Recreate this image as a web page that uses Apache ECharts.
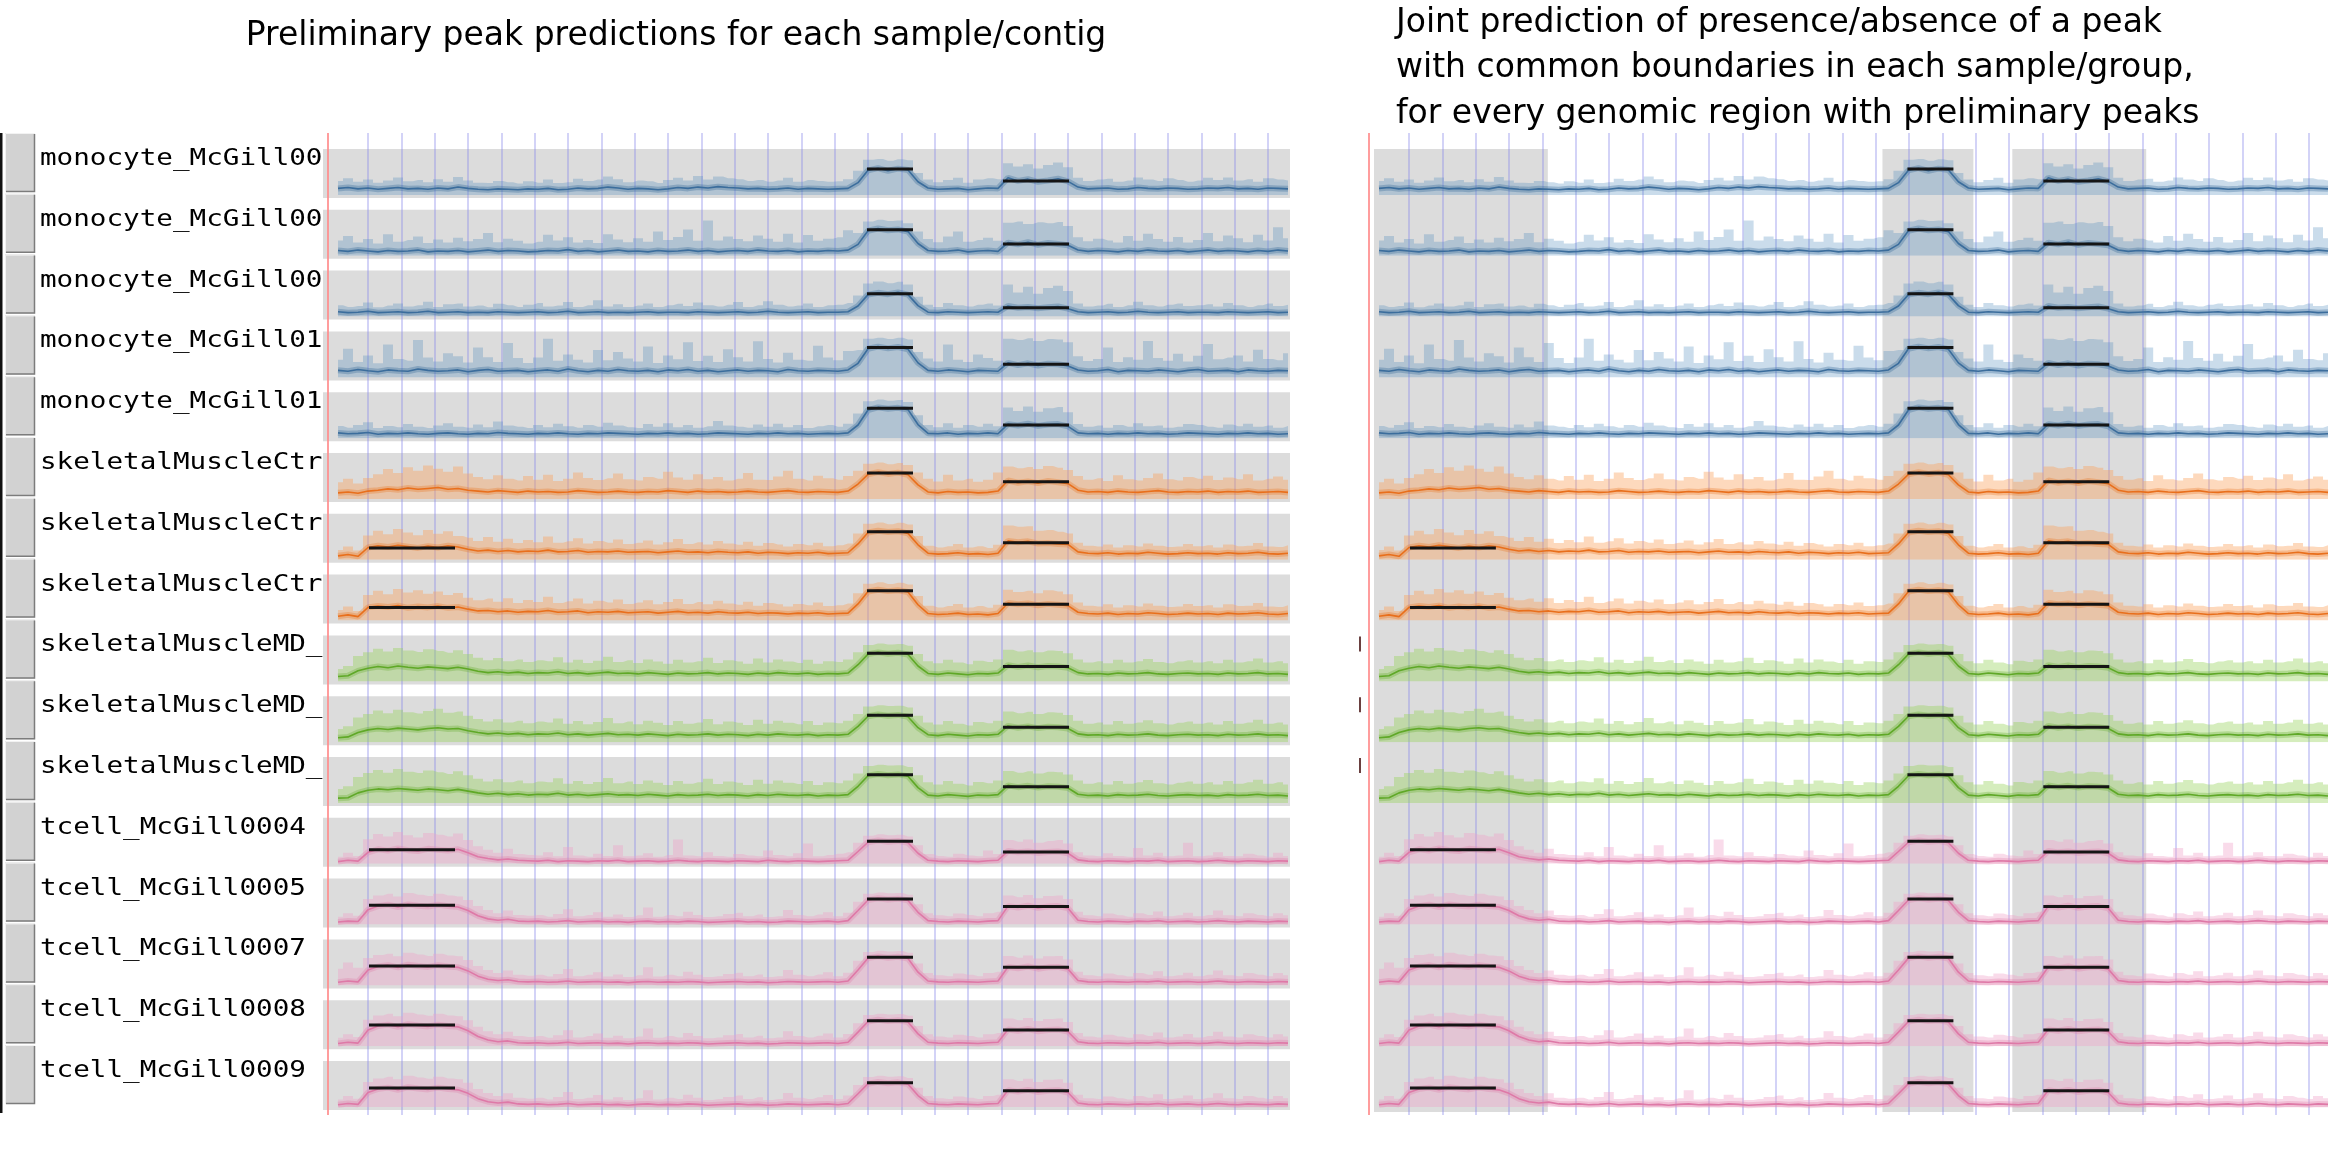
<!DOCTYPE html>
<html>
<head>
<meta charset="utf-8">
<title>peak predictions</title>
<script src="https://cdn.jsdelivr.net/npm/echarts@6.0.0/dist/echarts.min.js"></script>
<style>
html,body{margin:0;padding:0;background:#fff;}
#main{width:2333px;height:1151px;}
</style>
</head>
<body>
<div id="main"></div>
<script>
// samples, top to bottom
var trackNames = ['monocyte_McGill0001','monocyte_McGill0004','monocyte_McGill0007','monocyte_McGill0104','monocyte_McGill0106',
  'skeletalMuscleCtrl_McGill0051','skeletalMuscleCtrl_McGill0052','skeletalMuscleCtrl_McGill0053',
  'skeletalMuscleMD_McGill0061','skeletalMuscleMD_McGill0062','skeletalMuscleMD_McGill0063',
  'tcell_McGill0004','tcell_McGill0005','tcell_McGill0007','tcell_McGill0008','tcell_McGill0009'];
var trackGroup = ['blue','blue','blue','blue','blue','orange','orange','orange','green','green','green','pink','pink','pink','pink','pink'];

// coverage per bin (96 bins across the window): mean line and upper envelope
var mean01 = [1.5,1.7,1.4,1.6,1.3,1.5,1.7,1.4,1.5,1.3, 1.6,1.4,1.8,1.5,1.3,1.2,1.4,1.3,1.2,1.4, 1.3,1.5,1.2,1.3,1.6,1.4,1.5,1.8,1.6,1.3, 1.5,1.4,1.2,1.4,1.7,1.5,1.8,1.6,1.9,1.7, 1.6,1.4,1.5,1.3,1.4,1.6,1.3,1.5,1.4,1.3, 1.4,1.5, 2.8, 5.6,6.1,5.5,6.0,5.7, 3.0, 1.6,1.3,1.4,1.5,1.2,1.4,1.6,1.5, 3.9,3.2,3.6,3.0,3.3,3.7,3.1, 1.8,1.4,1.5,1.6,1.3,1.4,1.7,1.5,1.4,1.6,1.5,1.3,1.4,1.6,1.5,1.7,1.4,1.5,1.3,1.6,1.5,1.4];
var upper01 = [3.2,3.8,3.0,3.5,2.8,3.3,4.0,3.1,3.4,2.9, 3.6,3.0,4.1,3.3,2.8,2.7,3.2,2.9,2.6,3.1, 2.8,3.5,2.7,2.9,3.7,3.2,3.5,4.2,3.6,2.9, 3.3,3.1,2.7,3.4,3.9,3.3,4.3,3.5,4.2,3.8, 3.6,3.2,3.4,3.0,3.3,3.9,3.0,3.4,3.2,3.0, 3.1,3.6, 5.5, 8.0,8.2,7.8,8.1,7.9, 5.0, 3.5,2.9,3.4,3.9,2.8,3.5,3.8,3.6, 7.2,6.5,7.0,6.0,6.8,7.4,6.3, 3.9,3.2,3.5,3.7,3.0,3.3,4.0,3.5,3.2,3.8,3.4,3.0,3.3,3.9,3.4,4.0,3.3,3.6,3.0,3.8,3.5,3.3];
var mean02 = [1.2,1.0,1.3,1.1,0.9,1.2,1.0,1.1,1.3,0.9, 1.1,1.0,1.2,0.9,1.1,1.3,1.0,1.2,1.1,0.9, 1.0,1.2,1.1,1.4,1.0,1.2,0.9,1.1,1.3,1.0, 1.1,0.9,1.2,1.0,1.1,1.3,1.0,1.2,0.9,1.1, 1.2,1.0,1.3,1.1,1.0,1.2,0.9,1.1,1.0,1.2, 1.1,1.3, 2.6, 5.7,6.2,5.8,6.0,5.5, 2.8, 1.2,1.0,1.1,1.3,0.9,1.1,1.2,1.0, 3.0,2.6,3.1,2.5,2.9,2.7,2.4, 1.3,1.0,1.2,1.1,0.9,1.2,1.0,1.3,1.1,1.0,1.2,0.9,1.1,1.3,1.0,1.2,1.1,0.9,1.2,1.0,1.3,1.1];
var upper02 = [3.5,4.5,3.0,3.8,2.8,4.9,3.2,3.6,4.4,2.9, 3.7,3.0,4.1,3.3,3.8,5.2,3.1,3.9,3.4,2.8, 3.2,4.8,3.5,4.2,3.0,3.6,2.9,4.9,3.7,3.1, 4.0,3.2,5.5,3.6,4.3,6.0,3.4,8.0,3.5,4.4, 3.8,3.3,4.6,3.9,3.2,5.0,3.0,4.7,3.4,3.9, 4.2,5.8, 5.2, 7.8,8.2,7.9,8.0,7.4, 5.5, 3.8,3.1,4.4,5.5,3.2,3.6,4.1,3.4, 7.5,7.8,7.2,7.6,7.4,7.7,6.8, 4.2,3.3,3.9,3.5,3.0,4.5,3.4,5.0,3.8,3.2,4.3,3.0,3.6,5.2,3.3,4.6,4.0,3.1,4.8,3.5,6.5,4.0];
var mean03 = [1.1,0.9,1.0,1.2,0.9,1.0,1.1,0.9,1.0,1.2, 0.9,1.0,1.1,0.9,1.0,0.9,1.1,1.0,0.9,1.0, 1.1,0.9,1.0,1.2,0.9,1.0,1.1,0.9,1.0,0.9, 1.0,1.1,0.9,1.0,1.0,0.9,1.1,1.0,0.9,1.0, 1.1,0.9,1.0,1.2,1.0,0.9,1.0,1.1,0.9,1.0, 1.0,1.1, 2.4, 5.0,5.4,5.1,5.5,5.0, 2.5, 1.0,0.9,1.1,1.0,0.9,1.0,1.1,1.0, 2.4,2.0,2.2,1.9,2.1,2.3,1.8, 1.1,0.9,1.0,1.1,0.9,1.0,1.2,1.0,0.9,1.0,1.1,0.9,1.0,1.0,0.9,1.1,1.0,0.9,1.0,1.1,0.9,1.0];
var upper03 = [2.6,2.2,2.4,3.2,2.1,2.5,3.0,2.3,2.6,3.4, 2.2,2.8,3.0,2.3,2.5,2.1,2.9,2.6,2.2,2.7, 3.1,2.3,2.5,3.3,2.2,2.6,3.7,2.3,2.8,2.2, 2.5,3.0,2.2,2.6,2.9,2.4,3.2,2.6,2.3,2.7, 3.3,2.2,2.6,3.5,2.7,2.3,2.5,3.0,2.2,2.6, 2.7,3.1, 4.8, 7.5,8.0,7.6,7.9,7.3, 4.5, 2.7,2.2,3.1,2.6,2.3,2.7,3.0,2.5, 7.3,5.5,6.8,5.2,6.5,7.0,5.8, 3.0,2.3,2.5,2.9,2.2,2.6,3.4,2.6,2.3,2.7,3.0,2.4,2.6,2.8,2.3,3.1,2.6,2.2,2.6,3.0,2.4,2.7];
var mean04 = [1.6,1.4,1.8,1.5,1.3,1.7,1.5,1.4,1.9,1.6, 1.4,1.5,1.7,1.3,1.6,1.8,1.4,1.5,1.6,1.3, 1.5,1.7,1.4,1.9,1.5,1.3,1.6,1.4,1.8,1.5, 1.4,1.6,1.3,1.7,1.5,1.8,1.4,1.6,1.3,1.5, 1.7,1.4,1.6,1.5,1.3,1.8,1.5,1.4,1.6,1.5, 1.4,1.7, 3.2, 6.5,7.0,6.6,6.9,6.4, 3.3, 1.6,1.4,1.7,1.5,1.3,1.6,1.5,1.4, 3.3,2.8,3.2,2.7,3.1,3.0,2.6, 1.7,1.4,1.5,1.8,1.3,1.6,1.5,1.4,1.7,1.5,1.3,1.6,1.8,1.4,1.5,1.6,1.3,1.7,1.5,1.4,1.6,1.5];
var upper04 = [4.0,6.5,3.5,5.0,3.2,7.5,4.2,3.8,8.5,4.5, 3.6,5.5,4.8,3.4,6.8,4.6,3.5,7.8,4.4,3.3, 4.5,8.8,3.8,5.2,4.0,3.4,6.2,3.9,5.8,4.3, 3.6,7.0,3.3,5.0,4.1,8.0,3.7,4.9,3.5,6.4, 4.6,3.6,8.2,4.2,3.4,5.6,4.0,3.8,7.2,4.5, 3.9,6.0, 6.2, 8.8,9.0,8.7,9.0,8.6, 5.8, 4.3,3.6,7.5,4.0,3.5,5.2,4.4,3.8, 8.8,8.5,8.9,8.3,8.7,8.6,8.0, 4.8,3.7,4.2,6.8,3.5,4.6,4.0,8.3,4.4,3.8,5.4,3.6,4.9,7.6,4.1,4.5,5.0,3.6,6.3,4.2,3.9,5.5];
var mean05 = [1.2,1.0,1.1,1.3,0.9,1.1,1.0,1.2,1.0,0.9, 1.1,1.2,1.0,0.9,1.1,1.0,1.3,1.1,1.0,0.9, 1.1,1.0,1.2,1.0,0.9,1.1,1.0,1.2,1.1,1.0, 0.9,1.1,1.0,1.2,1.0,1.1,0.9,1.0,1.2,1.1, 1.0,0.9,1.1,1.0,1.2,1.0,1.1,0.9,1.0,1.1, 1.0,1.2, 3.0, 6.4,7.0,6.7,6.9,6.5, 3.1, 1.1,1.0,1.2,0.9,1.1,1.0,1.2,1.0, 3.2,2.9,3.3,2.8,3.1,3.2,2.7, 1.2,1.0,1.1,0.9,1.1,1.0,1.2,1.0,1.1,0.9,1.0,1.2,1.1,1.0,0.9,1.1,1.0,1.2,1.0,1.1,0.9,1.0];
var upper05 = [2.8,2.4,3.0,3.6,2.3,2.8,2.5,3.2,2.6,2.3, 2.9,3.4,2.6,2.4,3.1,2.5,3.8,2.9,2.6,2.3, 3.0,2.5,3.3,2.7,2.4,3.0,2.6,3.5,2.9,2.5, 2.3,3.2,2.6,3.4,2.5,3.0,2.4,2.7,3.9,2.9, 2.6,2.4,3.1,2.6,3.3,2.5,3.0,2.3,2.7,3.0, 2.6,3.3, 5.6, 8.4,8.8,8.5,8.7,8.2, 5.2, 3.0,2.5,3.4,2.4,3.0,2.6,3.3,2.7, 7.0,6.2,7.2,6.0,6.8,7.1,5.9, 3.2,2.6,2.9,2.4,3.0,2.6,3.4,2.7,2.9,2.4,2.6,3.2,3.0,2.6,2.4,3.1,2.7,3.3,2.6,2.9,2.4,2.8];
var mean06 = [1.4,1.6,1.3,1.8,2.0,2.3,2.1,2.5,2.2,2.4, 2.6,2.2,2.4,2.0,1.8,1.6,1.9,1.7,1.5,1.8, 1.6,1.7,1.5,1.6,1.9,1.7,1.5,1.6,1.8,1.6, 1.5,1.7,1.6,1.9,1.7,1.5,1.8,1.6,1.7,1.5, 1.6,1.8,1.6,1.5,1.7,1.9,1.6,1.5,1.7,1.6, 1.5,1.8, 3.4, 5.6,6.1,5.7,6.0,5.5, 3.2, 1.6,1.4,1.7,1.5,1.6,1.4,1.5,1.8, 4.2,3.7,4.0,3.6,4.1,3.8,3.5, 2.0,1.6,1.7,1.5,1.8,1.6,1.5,1.7,1.9,1.6,1.5,1.7,1.6,1.8,1.5,1.7,1.6,1.8,1.5,1.6,1.7,1.5];
var upper06 = [3.8,4.6,3.5,4.8,5.6,6.8,5.9,7.2,6.4,7.6, 6.9,6.2,7.4,5.8,5.0,4.5,5.4,4.6,4.2,5.2, 4.4,5.5,4.1,4.6,6.0,4.8,4.3,4.7,5.8,4.5, 4.2,5.0,4.6,6.2,4.9,4.4,5.6,4.5,5.0,4.2, 4.6,5.9,4.4,4.3,5.1,6.4,4.6,4.2,5.3,4.7, 4.4,5.2, 6.4, 8.0,8.3,7.9,8.2,7.7, 6.0, 4.6,4.0,5.5,4.2,4.6,3.9,4.4,6.0, 7.4,7.0,7.3,6.8,7.5,7.1,6.6, 5.2,4.4,4.7,4.1,5.4,4.5,4.2,4.8,5.8,4.5,4.2,5.0,4.6,5.3,4.3,4.9,4.5,5.6,4.2,4.6,5.1,4.4];
var mean07 = [0.9,1.2,0.8,2.8,3.2,2.9,3.3,3.0,2.7,3.1, 2.8,3.2,2.9,2.4,2.0,2.2,1.9,2.1,1.8,2.0, 1.9,2.2,1.8,1.9,2.1,1.7,1.9,1.8,2.0,1.7, 1.8,1.9,1.6,1.8,2.0,1.7,1.8,1.6,1.9,1.7, 1.6,1.8,1.5,1.7,1.6,1.4,1.6,1.5,1.7,1.4, 1.5,1.6, 3.6, 6.2,6.6,6.3,6.5,6.0, 3.4, 1.5,1.3,1.4,1.6,1.3,1.4,1.2,1.5, 4.3,4.0,4.2,3.7,3.8,3.6,3.5, 1.8,1.5,1.4,1.6,1.3,1.5,1.4,1.7,1.5,1.3,1.4,1.6,1.4,1.5,1.3,1.6,1.4,1.5,1.7,1.4,1.3,1.5];
var upper07 = [2.2,3.0,2.1,5.5,6.6,5.8,7.0,6.2,5.6,6.8, 5.9,6.5,5.4,5.0,4.3,5.2,4.1,4.8,3.8,4.5, 4.0,5.3,3.9,4.2,4.9,3.7,4.3,3.9,4.6,3.6, 3.9,4.4,3.5,4.0,4.7,3.6,4.0,3.5,4.3,3.7, 3.4,4.1,3.2,3.8,3.5,3.0,3.6,3.3,3.9,3.1, 3.3,3.7, 6.0, 8.2,8.5,8.1,8.4,8.0, 5.4, 3.2,2.8,3.1,3.6,2.8,3.1,2.7,3.4, 7.8,7.5,7.6,6.6,6.8,6.4,6.0, 3.9,3.2,3.0,3.5,2.8,3.3,3.0,3.7,3.2,2.9,3.0,3.6,3.1,3.3,2.8,3.5,3.1,3.2,3.8,3.0,2.9,3.3];
var mean08 = [1.0,1.3,0.9,3.0,3.3,3.1,3.4,2.9,3.2,3.0, 3.3,2.9,3.1,2.6,2.2,2.3,2.0,2.2,1.9,2.1, 2.0,2.3,1.9,2.0,2.2,1.8,2.0,1.9,2.1,1.8, 1.9,2.0,1.7,1.9,2.1,1.8,1.9,1.7,2.0,1.8, 1.7,1.9,1.6,1.8,1.7,1.5,1.7,1.6,1.8,1.5, 1.6,1.7, 3.8, 6.6,7.0,6.7,6.9,6.5, 3.6, 1.6,1.4,1.5,1.7,1.4,1.5,1.3,1.6, 4.0,3.7,3.9,3.5,3.8,3.6,3.4, 1.9,1.6,1.5,1.7,1.4,1.6,1.5,1.8,1.6,1.4,1.5,1.7,1.5,1.6,1.4,1.7,1.5,1.6,1.8,1.5,1.4,1.6];
var upper08 = [2.4,3.2,2.2,5.8,6.8,6.0,7.2,6.4,6.9,6.1, 6.6,5.8,6.3,5.2,4.6,5.0,4.3,5.1,4.0,4.7, 4.2,5.4,4.0,4.4,5.0,3.9,4.5,4.1,4.8,3.8, 4.1,4.6,3.7,4.2,4.9,3.8,4.2,3.7,4.5,3.9, 3.6,4.3,3.4,4.0,3.7,3.2,3.8,3.5,4.1,3.3, 3.5,3.9, 6.2, 8.4,8.7,8.3,8.6,8.2, 5.6, 3.4,3.0,3.3,3.8,3.0,3.3,2.9,3.6, 7.0,6.5,6.8,6.2,6.9,6.6,6.0, 4.1,3.4,3.2,3.7,3.0,3.5,3.2,3.9,3.4,3.1,3.2,3.8,3.3,3.5,3.0,3.7,3.3,3.4,4.0,3.2,3.1,3.5];
var mean09 = [1.1,1.3,2.4,3.0,3.4,3.1,3.5,3.2,3.0,3.3, 3.1,2.9,3.2,2.8,2.3,2.0,2.2,1.9,2.1,1.8, 2.0,1.9,2.2,1.8,2.0,1.7,1.9,2.1,1.8,1.9, 1.7,2.0,1.8,1.6,1.9,1.7,1.8,2.0,1.7,1.9, 1.8,1.6,1.9,1.7,2.0,1.8,1.7,1.9,1.6,1.8, 1.7,1.9, 3.8, 6.2,6.6,6.3,6.5,6.1, 3.5, 1.8,1.6,1.9,1.7,1.5,1.8,1.7,1.9, 3.7,3.3,3.6,3.2,3.5,3.4,3.1, 2.0,1.7,1.8,1.6,1.9,1.7,1.8,2.0,1.7,1.6,1.8,1.9,1.7,1.8,1.6,1.9,1.7,1.8,2.0,1.7,1.8,1.6];
var upper09 = [2.8,3.5,5.8,6.6,7.4,6.8,7.6,7.0,6.7,7.3, 6.9,6.5,7.1,6.2,5.4,4.8,5.3,4.6,5.0,4.4, 4.8,4.6,5.5,4.3,4.9,4.2,4.7,5.6,4.4,4.8, 4.2,5.0,4.5,4.0,4.9,4.3,4.6,5.4,4.2,4.8, 4.5,4.0,5.2,4.3,5.0,4.5,4.2,4.9,4.0,4.6, 4.4,5.0, 6.6, 8.3,8.6,8.4,8.5,8.1, 6.2, 4.6,4.1,4.9,4.3,3.9,4.7,4.4,5.0, 7.2,6.8,7.1,6.6,7.0,6.9,6.4, 5.0,4.3,4.6,4.1,4.9,4.3,4.6,5.1,4.4,4.1,4.5,4.8,4.3,4.6,4.1,4.9,4.3,4.6,5.2,4.3,4.6,4.1];
var mean10 = [1.0,1.2,2.2,2.8,3.1,2.9,3.2,3.0,2.8,3.1, 3.3,3.0,3.1,2.6,2.2,1.9,2.1,1.8,2.0,1.7, 1.9,1.8,2.1,1.7,1.9,1.6,1.8,2.0,1.7,1.8, 1.6,1.9,1.7,1.5,1.8,1.6,1.7,1.9,1.6,1.8, 1.7,1.5,1.8,1.6,1.9,1.7,1.6,1.8,1.5,1.7, 1.6,1.8, 3.6, 5.9,6.3,6.0,6.2,5.8, 3.3, 1.7,1.5,1.8,1.6,1.4,1.7,1.6,1.8, 3.7,3.3,3.6,3.2,3.5,3.4,3.1, 1.9,1.6,1.7,1.5,1.8,1.6,1.7,1.9,1.6,1.5,1.7,1.8,1.6,1.7,1.5,1.8,1.6,1.7,1.9,1.6,1.7,1.5];
var upper10 = [3.0,3.6,5.6,6.4,7.2,6.6,7.4,6.8,6.5,7.1, 7.6,6.7,7.0,6.0,5.3,4.7,5.2,4.5,4.9,4.3, 4.7,4.5,5.4,4.2,4.8,4.1,4.6,5.5,4.3,4.7, 4.1,4.9,4.4,3.9,4.8,4.2,4.5,5.3,4.1,4.7, 4.4,3.9,5.1,4.2,4.9,4.4,4.1,4.8,3.9,4.5, 4.3,4.9, 6.4, 8.1,8.4,8.2,8.3,7.9, 6.0, 4.5,4.0,4.8,4.2,3.8,4.6,4.3,4.9, 7.0,6.6,6.9,6.4,6.8,6.7,6.2, 4.9,4.2,4.5,4.0,4.8,4.2,4.5,5.0,4.3,4.0,4.4,4.7,4.2,4.5,4.0,4.8,4.2,4.5,5.1,4.2,4.5,4.0];
var mean11 = [1.1,1.2,2.3,2.9,3.2,3.0,3.3,3.1,2.9,3.2, 3.0,2.8,3.1,2.7,2.3,2.0,2.2,1.9,2.1,1.8, 2.0,1.9,2.2,1.8,2.0,1.7,1.9,2.1,1.8,1.9, 1.7,2.0,1.8,1.6,1.9,1.7,1.8,2.0,1.7,1.9, 1.8,1.6,1.9,1.7,2.0,1.8,1.7,1.9,1.6,1.8, 1.7,1.9, 3.8, 6.2,6.6,6.3,6.5,6.1, 3.5, 1.8,1.6,1.9,1.7,1.5,1.8,1.7,1.9, 4.0,3.6,3.9,3.5,3.8,3.7,3.4, 2.0,1.7,1.8,1.6,1.9,1.7,1.8,2.0,1.7,1.6,1.8,1.9,1.7,1.8,1.6,1.9,1.7,1.8,2.0,1.7,1.8,1.6];
var upper11 = [3.2,3.8,5.9,6.8,7.5,6.9,7.7,7.1,6.8,7.4, 7.0,6.6,7.2,6.3,5.5,4.9,5.4,4.7,5.1,4.5, 4.9,4.7,5.6,4.4,5.0,4.3,4.8,5.7,4.5,4.9, 4.3,5.1,4.6,4.1,5.0,4.4,4.7,5.5,4.3,4.9, 4.6,4.1,5.3,4.4,5.1,4.6,4.3,5.0,4.1,4.7, 4.5,5.1, 6.7, 8.4,8.7,8.5,8.6,8.2, 6.3, 4.7,4.2,5.0,4.4,4.0,4.8,4.5,5.1, 7.3,6.9,7.2,6.7,7.1,7.0,6.5, 5.1,4.4,4.7,4.2,5.0,4.4,4.7,5.2,4.5,4.2,4.6,4.9,4.4,4.7,4.2,5.0,4.4,4.7,5.3,4.4,4.7,4.2];
var mean12 = [0.5,0.8,0.6,2.6,3.3,3.0,3.5,3.1,2.9,3.4, 3.2,3.0,3.3,2.5,1.6,1.2,0.9,1.1,0.8,0.7, 0.6,0.8,0.5,0.7,0.6,0.5,0.7,0.6,0.8,0.5, 0.6,0.7,0.5,0.6,0.8,0.6,0.5,0.7,0.6,0.5, 0.7,0.6,0.5,0.8,0.6,0.5,0.7,0.6,0.5,0.6, 0.7,0.8, 2.8, 4.9,5.3,5.0,5.2,4.8, 2.4, 0.8,0.6,0.5,0.7,0.6,0.5,0.7,0.8, 2.9,2.6,2.8,2.5,2.7,2.8,2.4, 0.9,0.6,0.5,0.7,0.6,0.5,0.7,0.6,0.8,0.5,0.6,0.7,0.5,0.6,0.8,0.6,0.5,0.7,0.6,0.5,0.7,0.6];
var upper12 = [1.6,2.5,1.8,5.6,6.8,6.2,7.2,6.5,6.0,7.0, 6.6,6.2,6.9,5.4,4.0,3.2,2.5,3.4,2.2,2.0, 1.9,2.6,1.7,3.8,1.9,1.6,2.3,1.8,4.2,1.7, 1.9,2.4,1.6,2.0,5.5,1.9,1.7,2.6,1.8,1.6, 2.2,1.9,1.7,3.0,2.0,1.7,2.4,4.6,1.7,2.0, 2.3,2.6, 4.8, 6.4,6.7,6.5,6.6,6.2, 4.2, 2.2,1.8,1.6,2.3,1.9,1.7,3.0,2.2, 5.4,5.0,5.5,4.8,5.2,5.4,4.6, 2.6,1.9,1.7,2.4,1.8,1.6,3.6,1.9,2.5,1.7,1.9,4.8,1.7,1.9,2.6,1.8,1.7,2.3,1.9,1.6,2.5,1.8];
var mean13 = [0.6,0.8,0.7,3.4,4.2,4.5,4.0,4.6,4.3,4.1, 4.5,4.2,4.0,3.2,2.0,1.3,1.0,1.2,0.8,0.7, 0.8,0.6,0.7,0.9,0.6,0.7,0.8,0.6,0.7,0.5, 0.7,0.8,0.6,0.7,0.6,0.8,0.7,0.5,0.6,0.7, 0.8,0.6,0.7,0.5,0.6,0.8,0.7,0.6,0.7,0.8, 0.6,0.9, 3.2, 5.6,6.0,5.7,5.9,5.5, 2.8, 0.9,0.7,0.6,0.8,0.7,0.6,0.8,0.9, 4.2,3.9,4.3,3.8,4.1,4.2,3.7, 1.0,0.7,0.6,0.8,0.7,0.6,0.8,0.7,0.9,0.6,0.7,0.8,0.6,0.7,0.9,0.7,0.6,0.8,0.7,0.6,0.8,0.7];
var upper13 = [1.8,2.6,2.0,5.8,6.6,7.0,6.4,7.2,6.8,6.5, 7.0,6.6,6.4,5.6,4.2,3.3,2.6,3.2,2.2,2.0, 2.2,1.8,2.4,3.5,1.9,2.2,2.8,1.8,2.3,1.7, 2.1,3.9,1.8,2.2,1.9,2.9,2.2,1.7,1.9,2.4, 2.7,1.9,2.3,1.7,1.9,3.3,2.2,1.9,2.3,2.8, 1.9,2.7, 5.2, 7.0,7.3,7.1,7.2,6.8, 4.6, 2.6,2.1,1.9,2.5,2.2,1.9,2.6,2.9, 6.6,6.2,6.7,6.0,6.5,6.6,5.8, 2.9,2.1,1.9,2.5,2.1,1.8,2.6,2.2,3.0,1.9,2.1,2.7,1.9,2.2,3.2,2.1,1.9,2.6,2.2,1.9,2.6,2.1];
var mean14 = [0.7,1.0,0.8,3.5,4.3,4.6,4.1,4.7,4.4,4.2, 4.6,4.3,4.1,3.3,2.1,1.4,1.1,1.3,0.9,0.8, 0.9,0.7,0.8,1.0,0.7,0.8,0.9,0.7,0.8,0.6, 0.8,0.9,0.7,0.8,0.7,0.9,0.8,0.6,0.7,0.8, 0.9,0.7,0.8,0.6,0.7,0.9,0.8,0.7,0.8,0.9, 0.7,1.0, 3.5, 6.2,6.6,6.3,6.5,6.1, 3.0, 1.0,0.8,0.7,0.9,0.8,0.7,0.9,1.0, 4.2,3.9,4.3,3.8,4.1,4.2,3.7, 1.1,0.8,0.7,0.9,0.8,0.7,0.9,0.8,1.0,0.7,0.8,0.9,0.7,0.8,1.0,0.8,0.7,0.9,0.8,0.7,0.9,0.8];
var upper14 = [3.8,5.2,4.0,6.2,6.9,7.2,6.6,7.4,7.0,6.7, 7.2,6.8,6.6,5.8,4.4,3.5,2.8,3.4,2.4,2.2, 2.4,2.0,2.6,3.7,2.1,2.4,3.0,2.0,2.5,1.9, 2.3,4.1,2.0,2.4,2.1,3.1,2.4,1.9,2.1,2.6, 2.9,2.1,2.5,1.9,2.1,3.5,2.4,2.1,2.5,3.0, 2.1,2.9, 5.6, 7.6,7.9,7.7,7.8,7.4, 5.0, 2.8,2.3,2.1,2.7,2.4,2.1,2.8,3.1, 6.7,6.3,6.8,6.1,6.6,6.7,5.9, 3.1,2.3,2.1,2.7,2.3,2.0,2.8,2.4,3.2,2.1,2.3,2.9,2.1,2.4,3.4,2.3,2.1,2.8,2.4,2.1,2.8,2.3];
var mean15 = [0.6,0.9,0.7,3.7,4.6,4.9,4.4,5.0,4.7,4.5, 4.9,4.6,4.4,3.5,2.2,1.4,1.0,1.2,0.8,0.7, 0.8,0.6,0.7,0.9,0.6,0.7,0.8,0.6,0.7,0.5, 0.7,0.8,0.6,0.7,0.6,0.8,0.7,0.5,0.6,0.7, 0.8,0.6,0.7,0.5,0.6,0.8,0.7,0.6,0.7,0.8, 0.6,0.9, 3.2, 5.6,6.0,5.7,5.9,5.5, 2.8, 0.9,0.7,0.6,0.8,0.7,0.6,0.8,0.9, 3.8,3.5,3.9,3.4,3.7,3.8,3.3, 1.0,0.7,0.6,0.8,0.7,0.6,0.8,0.7,0.9,0.6,0.7,0.8,0.6,0.7,0.9,0.7,0.6,0.8,0.7,0.6,0.8,0.7];
var upper15 = [1.9,2.7,2.1,6.0,7.0,7.4,6.8,7.6,7.2,6.9, 7.4,7.0,6.8,5.9,4.4,3.4,2.7,3.3,2.3,2.1, 2.3,1.9,2.5,3.6,2.0,2.3,2.9,1.9,2.4,1.8, 2.2,4.0,1.9,2.3,2.0,3.0,2.3,1.8,2.0,2.5, 2.8,2.0,2.4,1.8,2.0,3.4,2.3,2.0,2.4,2.9, 2.0,2.8, 5.2, 7.1,7.4,7.2,7.3,6.9, 4.6, 2.7,2.2,2.0,2.6,2.3,2.0,2.7,3.0, 6.3,5.9,6.4,5.7,6.2,6.3,5.5, 3.0,2.2,2.0,2.6,2.2,1.9,2.7,2.3,3.1,2.0,2.2,2.8,2.0,2.3,3.3,2.2,2.0,2.7,2.3,2.0,2.7,2.2];
var mean16 = [0.5,0.8,0.6,3.3,4.1,4.4,3.9,4.5,4.2,4.0, 4.4,4.1,3.9,3.1,1.9,1.2,0.9,1.1,0.7,0.6, 0.7,0.5,0.6,0.8,0.5,0.6,0.7,0.5,0.6,0.4, 0.6,0.7,0.5,0.6,0.5,0.7,0.6,0.4,0.5,0.6, 0.7,0.5,0.6,0.4,0.5,0.7,0.6,0.5,0.6,0.7, 0.5,0.8, 3.0, 5.3,5.7,5.4,5.6,5.2, 2.6, 0.8,0.6,0.5,0.7,0.6,0.5,0.7,0.8, 3.8,3.5,3.9,3.4,3.7,3.8,3.3, 0.9,0.6,0.5,0.7,0.6,0.5,0.7,0.6,0.8,0.5,0.6,0.7,0.5,0.6,0.8,0.6,0.5,0.7,0.6,0.5,0.7,0.6];
var upper16 = [1.7,2.5,1.9,5.7,6.5,6.9,6.3,7.1,6.7,6.4, 6.9,6.5,6.3,5.5,4.1,3.2,2.5,3.1,2.1,1.9, 2.1,1.7,2.3,3.4,1.8,2.1,2.7,1.7,2.2,1.6, 2.0,3.8,1.7,2.1,1.8,2.8,2.1,1.6,1.8,2.3, 2.6,1.8,2.2,1.6,1.8,3.2,2.1,1.8,2.2,2.7, 1.8,2.6, 5.0, 6.8,7.1,6.9,7.0,6.6, 4.4, 2.5,2.0,1.8,2.4,2.1,1.8,2.5,2.8, 6.3,5.9,6.4,5.7,6.2,6.3,5.5, 2.8,2.0,1.8,2.4,2.0,1.7,2.5,2.1,2.9,1.8,2.0,2.6,1.8,2.1,3.1,2.0,1.8,2.5,2.1,1.8,2.5,2.0];

// peak calls (bin coordinates) and their heights per sample
var peak1Range = [53.4, 58.0];
var peak2Range = [67.0, 73.6];
var leftCallRange = [3.6, 12.2];
var peak1Height = [5.9,5.9,5.2,6.8,6.8,5.9,6.4,6.8,6.4,6.1,6.4,5.1,5.8,6.4,5.8,5.5];
var peak2Height = [3.2,2.7,2.0,3.0,3.0,3.9,3.9,3.7,3.4,3.4,3.7,2.7,4.1,4.1,3.7,3.7];
var leftCallHeight = [null,null,null,null,null,null,2.7,3.0,null,null,null,3.2,4.4,4.4,4.8,4.3];

// joint segmentation regions (right panel)
var jointRegions = [[0, 17.4], [50.9, 60.0], [63.9, 77.3]];

var meanData = [mean01,mean02,mean03,mean04,mean05,mean06,mean07,mean08,mean09,mean10,mean11,mean12,mean13,mean14,mean15,mean16];
var upperData = [upper01,upper02,upper03,upper04,upper05,upper06,upper07,upper08,upper09,upper10,upper11,upper12,upper13,upper14,upper15,upper16];

var groupColors = {
  blue:   {line:'#3b6d9c', mid:'rgba(59,109,156,0.35)', band:'rgba(80,140,190,0.30)'},
  orange: {line:'#e86f1c', mid:'rgba(232,111,28,0.30)', band:'rgba(250,160,90,0.40)'},
  green:  {line:'#5fa827', mid:'rgba(95,168,39,0.30)',  band:'rgba(150,210,90,0.40)'},
  pink:   {line:'#de79a7', mid:'rgba(222,121,167,0.30)', band:'rgba(240,160,200,0.38)'}
};

var TOP0 = 149, PITCH = 60.8, TRACK_H = 49, NBINS = 96;
var panels = [
  {sigLeft:333, lineLeft:368, lineRight:1290, redX:328, shaded:true},
  {sigLeft:1374, lineLeft:1409, lineRight:2333, redX:1369, shaded:false}
];

var chart = echarts.init(document.getElementById('main'));
var grids = [], xAxes = [], yAxes = [], series = [], elements = [];

function addGrid(g, xa, ya) {
  var i = grids.length;
  grids.push(g);
  xa.gridIndex = i; ya.gridIndex = i;
  xAxes.push(xa); yAxes.push(ya);
  return i;
}
function binPoints(arr) {
  return arr.map(function (v, i) { return [i + 0.5, v]; });
}
function callSeries(gi, range, h) {
  series.push({
    type:'line', xAxisIndex:gi, yAxisIndex:gi, z:7, silent:true,
    symbol:'none', lineStyle:{color:'#151515', width:3},
    data:[[range[0], h], [range[1], h]]
  });
}

panels.forEach(function (p) {
  // light vertical guide lines
  addGrid({left:p.lineLeft, top:133, width:p.lineRight - p.lineLeft, height:982},
    {type:'value', min:0, max:(p.lineRight - p.lineLeft) / 33.33, interval:1, z:3,
     axisLine:{show:false}, axisTick:{show:false}, axisLabel:{show:false},
     splitLine:{show:true, showMinLine:true, showMaxLine:false, lineStyle:{color:'rgba(140,140,235,0.38)', width:2}}},
    {type:'value', min:0, max:1, show:false, splitLine:{show:false}});

  if (!p.shaded) {
    var hg = addGrid({left:p.sigLeft, top:TOP0, width:NBINS * 10, height:963},
      {type:'value', min:0, max:NBINS, show:false},
      {type:'value', min:0, max:1, show:false});
    series.push({
      type:'line', xAxisIndex:hg, yAxisIndex:hg, z:1, silent:true,
      symbol:'none', lineStyle:{opacity:0}, data:[[0, 0]],
      markArea:{silent:true, itemStyle:{color:'#dcdcdc'},
        data:jointRegions.map(function (r) { return [{xAxis:r[0]}, {xAxis:r[1]}]; })}
    });
  }

  trackNames.forEach(function (name, t) {
    var top = TOP0 + t * PITCH;
    var c = groupColors[trackGroup[t]];
    var gi = addGrid({left:p.sigLeft, top:top + 2, width:NBINS * 10, height:44},
      {type:'value', min:0, max:NBINS, show:false},
      {type:'value', min:0, max:10, show:false});
    series.push({type:'line', xAxisIndex:gi, yAxisIndex:gi, z:4, silent:true, step:'middle',
      symbol:'none', lineStyle:{width:0}, areaStyle:{color:c.band, origin:'start', opacity:1},
      data:binPoints(upperData[t])});
    series.push({type:'line', xAxisIndex:gi, yAxisIndex:gi, z:5, silent:true,
      symbol:'none', lineStyle:{width:6, color:c.mid}, data:binPoints(meanData[t])});
    series.push({type:'line', xAxisIndex:gi, yAxisIndex:gi, z:6, silent:true,
      symbol:'none', lineStyle:{width:1.6, color:c.line}, data:binPoints(meanData[t])});
    callSeries(gi, peak1Range, peak1Height[t]);
    callSeries(gi, peak2Range, peak2Height[t]);
    if (leftCallHeight[t] !== null) callSeries(gi, leftCallRange, leftCallHeight[t]);

    if (p.shaded) {
      elements.push({type:'rect', z:1, silent:true,
        shape:{x:323, y:top, width:967, height:TRACK_H}, style:{fill:'#dcdcdc'}});
    }
  });

  elements.push({type:'line', z:8, silent:true,
    shape:{x1:p.redX, y1:133, x2:p.redX, y2:1115}, style:{stroke:'rgba(255,140,140,0.85)', lineWidth:2}});
});

// label column: buttons and names
elements.push({type:'rect', z:0, silent:true, shape:{x:0, y:133, width:2, height:980}, style:{fill:'#111'}});
elements.push({type:'rect', z:0, silent:true, shape:{x:2, y:133, width:1, height:980}, style:{fill:'#888'}});
trackNames.forEach(function (name, t) {
  var top = TOP0 + t * PITCH;
  var by = 133 + t * PITCH;
  elements.push({type:'rect', z:0, silent:true, shape:{x:5, y:by, width:30, height:59}, style:{fill:'#d2d2d2'}});
  elements.push({type:'polyline', z:0, silent:true, shape:{points:[[5.5, by + 59], [5.5, by + 0.5], [35, by + 0.5]]},
    style:{stroke:'#f2f2f2', lineWidth:1, fill:null}});
  elements.push({type:'polyline', z:0, silent:true, shape:{points:[[6, by + 58.5], [34.5, by + 58.5], [34.5, by + 1]]},
    style:{stroke:'#7c7c7c', lineWidth:1.5, fill:null}});
  elements.push({type:'text', z:0, silent:true, x:40, y:top + 10, scaleX:1.2,
    style:{text:name, x:0, y:0, fontSize:23, fontFamily:'DejaVu Sans Mono', fill:'#000',
      align:'left', verticalAlign:'middle', width:240, overflow:'truncate', ellipsis:''}});
});

// small edge marks beside the right panel
[8, 9, 10].forEach(function (t) {
  var top = TOP0 + t * PITCH;
  elements.push({type:'rect', z:8, silent:true, shape:{x:1359, y:top + 1, width:2, height:15}, style:{fill:'#6a4040'}});
});

// titles
elements.push({type:'text', z:9, silent:true, x:676, y:36,
  style:{text:'Preliminary peak predictions for each sample/contig', fontSize:33, fontFamily:'DejaVu Sans', fill:'#000', align:'center', verticalAlign:'middle'}});
['Joint prediction of presence/absence of a peak',
 'with common boundaries in each sample/group,',
 'for every genomic region with preliminary peaks'].forEach(function (s, i) {
  elements.push({type:'text', z:9, silent:true, x:1396, y:23 + i * 45.5,
    style:{text:s, fontSize:33, fontFamily:'DejaVu Sans', fill:'#000', align:'left', verticalAlign:'middle'}});
});

chart.setOption({
  animation:false,
  backgroundColor:'#ffffff',
  grid:grids,
  xAxis:xAxes,
  yAxis:yAxes,
  series:series,
  graphic:{elements:elements}
});
</script>
</body>
</html>
